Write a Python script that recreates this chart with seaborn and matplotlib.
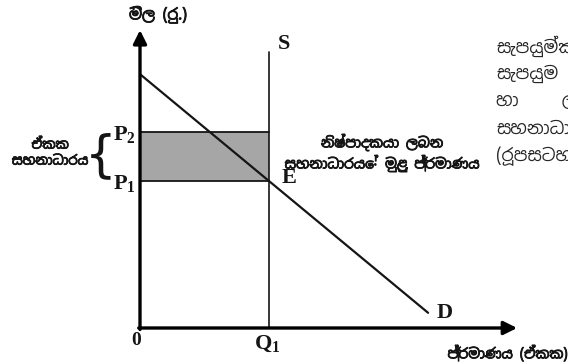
import numpy as np
import matplotlib
matplotlib.use("Agg")
import matplotlib.pyplot as plt
import matplotlib.patheffects as pe
import seaborn as sns

# economic values (price in Rs, quantity in units)
q1 = 3.0
p1 = 3.0
p2 = 4.0
demand_q = [0.0, 6.70]
demand_p = [5.18, 0.31]
supply_q = [q1, q1]
supply_p = [0.0, 5.63]
x_axis_end = 8.77
y_axis_end = 6.08

price_label = "මිල (රු.)"
qty_label = "ප්‍රමාණය (ඒකක)"
unit_subsidy = "ඒකක\nසහනාධාරය"
total_subsidy = "නිෂ්පාදකයා ලබන\nසහනාධාරයේ මුළු ප්‍රමාණය"
side_lines = ["සැපයුම්කරුවන්ට", "සැපයුම", "හා     ලැබෙන", "සහනාධාරය", "(රූපසටහන"]

sns.set_theme(style="white")
plt.rcParams["font.family"] = ["Noto Sans Sinhala", "DejaVu Sans"]
plt.rcParams["mathtext.fontset"] = "custom"
plt.rcParams["mathtext.bf"] = "Liberation Serif:bold"
plt.rcParams["mathtext.rm"] = "Liberation Serif:bold"

fig = plt.figure(figsize=(5.68, 3.62), dpi=100)
ax = fig.add_axes([0, 0, 1, 1])
# 43 px per quantity unit, 49 px per price unit, origin at (140, 328) px
ax.set_xlim(-140 / 43, 428 / 43)
ax.set_ylim(-34 / 49, 328 / 49)
ax.axis("off")

ink = "#151515"
# Noto Sans Sinhala has no bold face here, so thicken the strokes
heavy = [pe.withStroke(linewidth=0.6, foreground=ink)]
label_font = dict(family=["Noto Sans Sinhala", "DejaVu Sans"], color=ink, path_effects=heavy)

# shaded total subsidy area
ax.fill_between([0, q1], p1, p2, color="#a6a6a6", linewidth=0, zorder=1)
ax.plot([0, q1], [p2, p2], color=ink, lw=1.3, zorder=2)
ax.plot([0, q1], [p1, p1], color=ink, lw=1.3, zorder=2)

# supply and demand
sns.lineplot(x=supply_q, y=supply_p, ax=ax, color=ink, lw=1.2, zorder=3,
             estimator=None, sort=False)
sns.lineplot(x=demand_q, y=demand_p, ax=ax, color=ink, lw=1.6, zorder=3,
             estimator=None, sort=False)

# axes with arrows
ax.annotate("", xy=(x_axis_end, 0), xytext=(-0.03, 0),
            arrowprops=dict(arrowstyle="-|>", lw=2.4, color="black", mutation_scale=20,
                            shrinkA=0, shrinkB=0), zorder=4)
ax.annotate("", xy=(0, y_axis_end), xytext=(0, -0.03),
            arrowprops=dict(arrowstyle="-|>", lw=2.4, color="black", mutation_scale=20,
                            shrinkA=0, shrinkB=0), zorder=4)

serif = dict(family="Liberation Serif", weight="bold", color=ink)
ax.text(-0.09, -0.25, "0", ha="center", va="center", fontsize=14, **serif)
ax.text(q1 - 0.03, -0.11, r"$\mathbf{Q_1}$", ha="center", va="top", fontsize=16, color=ink)
ax.text(-0.1, p2 - 0.05, r"$\mathbf{P_2}$", ha="right", va="center", fontsize=16, color=ink)
ax.text(-0.1, p1 - 0.06, r"$\mathbf{P_1}$", ha="right", va="center", fontsize=16, color=ink)
ax.text(q1 + 0.2, 5.8, "S", ha="left", va="center", fontsize=16, **serif)
ax.text(q1 + 0.3, 3.07, "E", ha="left", va="center", fontsize=16, **serif)
ax.text(demand_q[1] + 0.2, 0.31, "D", ha="left", va="center", fontsize=16, **serif)

# axis titles
ax.text(0.42, 6.39, price_label, ha="center", va="center", fontsize=11, **label_font)
ax.text(8.55, -0.53, qty_label, ha="center", va="center", fontsize=10, **label_font)

# unit subsidy brace and label
ax.text(-0.92, 3.5, "{", ha="center", va="center", fontsize=36,
        family="DejaVu Sans", color=ink)
ax.text(-2.09, 3.57, unit_subsidy, ha="center", va="center", fontsize=9.5,
        linespacing=1.3, **label_font)
ax.text(5.63, 3.57, total_subsidy, ha="center", va="center", fontsize=10,
        linespacing=1.25, **label_font)

# side paragraph, cut by the right edge as in the source page
for i, line in enumerate(side_lines):
    fig.text(496 / 568, 1 - (46 + 27.5 * i) / 362, line, ha="left", va="center",
             fontsize=12.5, family=["Noto Sans Sinhala", "DejaVu Sans"])

fig.savefig("out.png", dpi=100)
